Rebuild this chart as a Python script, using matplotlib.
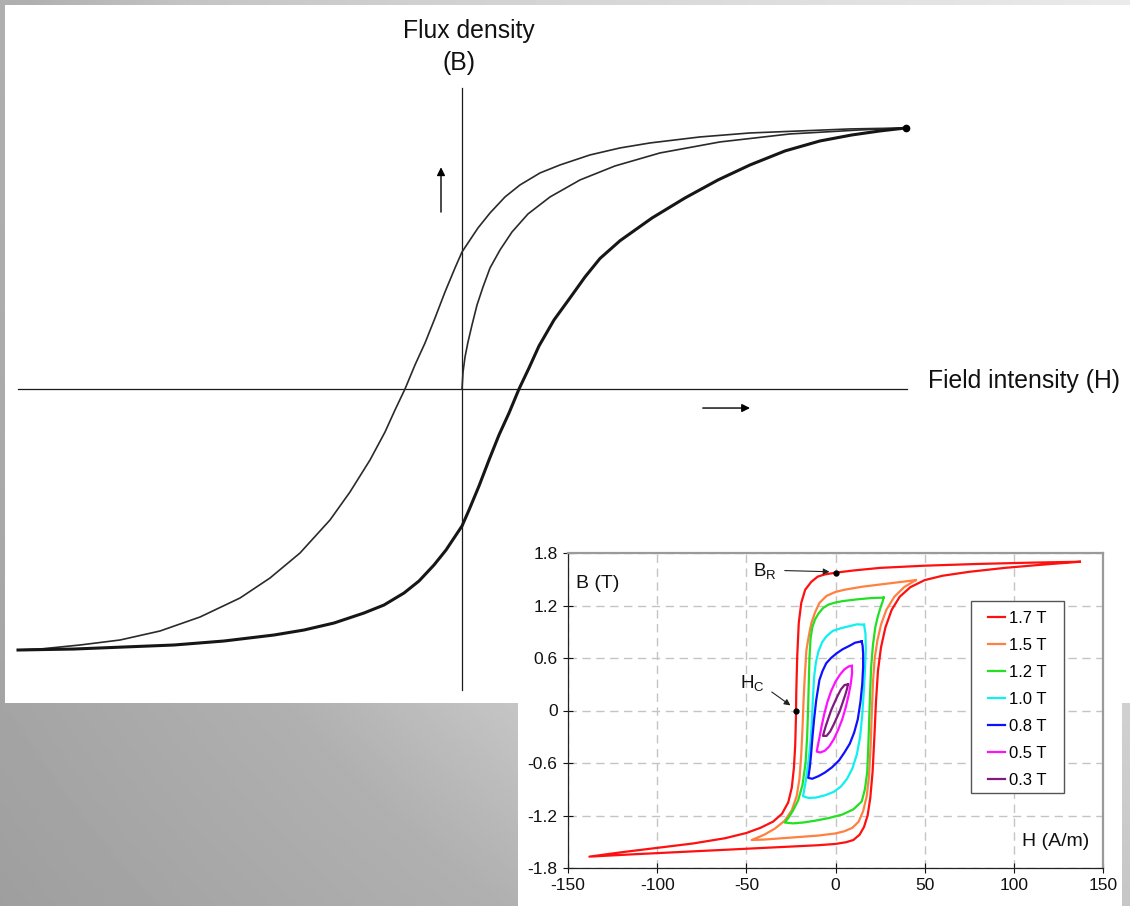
import numpy as np
import matplotlib
matplotlib.use("Agg")
import matplotlib.pyplot as plt
from matplotlib.patches import Rectangle

plt.rcParams['font.family'] = ['Liberation Sans', 'DejaVu Sans']
plt.rcParams['axes.unicode_minus'] = False

# ---------------- main conceptual B-H diagram (arbitrary units, saturation = 100) ----------------
upper_H = [100, 87.39, 76.13, 64.86, 53.60, 42.34, 35.59, 28.83, 22.07, 17.57, 13.06, 9.68, 6.31, 3.60, 1.80, 0,
           -1.58, -3.83, -6.08, -8.33, -10.59, -12.84, -15.09, -17.34, -20.72, -25.23, -29.73, -36.49, -43.24,
           -50.00, -59.01, -68.02, -77.03, -86.04, -95.05, -100]
upper_B = [100, 99.62, 98.85, 98.08, 96.55, 94.25, 92.34, 89.66, 85.82, 82.76, 78.16, 73.56, 67.43, 61.69, 57.09, 52.49,
           46.36, 37.16, 27.20, 17.62, 9.20, 0, -8.05, -16.48, -27.20, -39.46, -50.19, -62.84, -72.41,
           -80.08, -87.36, -92.72, -96.17, -98.08, -99.62, -100]

lower_H = [-100, -87.39, -76.13, -64.86, -53.60, -42.34, -35.59, -28.83, -22.07, -17.57, -13.06, -9.68, -6.31, -3.60,
           -1.80, 0, 1.58, 3.83, 6.08, 8.33, 10.59, 12.84, 15.09, 17.34, 20.72, 24.32, 27.70, 31.08, 35.59, 42.79,
           50.23, 57.66, 64.86, 72.75, 80.63, 87.84, 94.14, 100]
lower_B = [-100, -99.62, -98.85, -98.08, -96.55, -94.25, -92.34, -89.66, -85.82, -82.76, -78.16, -73.56, -67.43, -61.69,
           -57.09, -52.49, -46.36, -37.16, -27.20, -17.62, -9.20, 0, 8.05, 16.48, 26.44, 34.87, 42.91, 50.0, 56.8, 65.5,
           73.18, 80.08, 85.82, 91.19, 95.02, 97.32, 98.85, 100]

init_H = [0, 0.23, 0.68, 1.35, 2.25, 3.38, 4.73, 6.31, 8.56, 11.26, 14.86, 19.82, 26.58, 34.46, 44.59, 58.11, 73.87, 89.64, 100]
init_B = [0, 6.51, 12.26, 18.01, 24.52, 32.18, 39.08, 46.36, 53.26, 60.15, 67.05, 73.56, 80.08, 85.44, 90.42, 94.64, 97.70, 99.23, 100]

# ---------------- inset: measured loops (H in A/m, B in T) ----------------
loop_labels = ['1.7 T', '1.5 T', '1.2 T', '1.0 T', '0.8 T', '0.5 T', '0.3 T']
loop_colors = ['#ff1010', '#ff8040', '#22e022', '#10f0f0', '#1010ff', '#ff10ff', '#801a80']

red_H = [137, 110, 80, 50, 25, 10, 0, -6, -10, -13.6, -17, -19.2, -20.6, -21.5, -22, -22.2, -22.6, -23.3, -24.5,
         -26.5, -30, -35, -42, -50, -62, -80, -100, -120, -138,
         -115, -90, -60, -30, -10, 0, 6, 10, 13.5, 16, 18, 19.5, 20.8, 21.8, 22.7, 23.8, 25.5, 28, 31.5, 36, 42, 50,
         60, 75, 95, 115, 137]
red_B = [1.70, 1.69, 1.675, 1.655, 1.63, 1.60, 1.575, 1.555, 1.53, 1.47, 1.38, 1.23, 1.0, 0.6, 0.2, -0.1, -0.4, -0.65, -0.88,
         -1.05, -1.18, -1.27, -1.34, -1.40, -1.46, -1.52, -1.57, -1.62, -1.67,
         -1.645, -1.62, -1.59, -1.56, -1.54, -1.525, -1.505, -1.48, -1.42, -1.33, -1.2, -1.0, -0.7, -0.3, 0.1, 0.45, 0.72,
         0.95, 1.15, 1.3, 1.41, 1.49, 1.54, 1.585, 1.63, 1.665, 1.70]

orange_H = [45, 35, 25, 15, 5, 0, -5, -9, -11.5, -13.5, -15, -16.3, -17.2, -17.9, -18.5, -19.2, -20.2, -21.8, -24.5,
            -28.5, -34, -40, -47,
            -40, -30, -20, -10, 0, 5, 9.5, 13, 15.5, 17.5, 18.8, 19.7, 20.4, 21.1, 22, 23.5, 25.5, 28.5, 33, 38.5, 45]
orange_B = [1.49, 1.465, 1.44, 1.415, 1.38, 1.355, 1.31, 1.23, 1.12, 1.0, 0.85, 0.69, 0.4, 0.12, -0.2, -0.5, -0.78, -0.98,
            -1.14, -1.26, -1.35, -1.42, -1.48,
            -1.475, -1.46, -1.445, -1.43, -1.405, -1.38, -1.34, -1.27, -1.15, -0.98, -0.75, -0.4, 0, 0.35, 0.6, 0.8,
            0.98, 1.15, 1.3, 1.41, 1.49]

green_H = [27, 20, 12, 4, 0, -4, -7, -9.5, -11.5, -13, -14, -14.6, -15, -15.4, -15.9, -16.8, -18.5, -21, -24, -26.5, -28.5,
           -24, -18, -11.6, -4, 3.7, 10, 14.7, 16.5, 17.8, 18.4, 18.9, 19.4, 20, 21, 22.3, 23.8, 25.3, 26.5, 27]
green_B = [1.29, 1.285, 1.27, 1.25, 1.235, 1.21, 1.17, 1.11, 1.04, 0.95, 0.82, 0.6, 0.3, 0, -0.3, -0.6, -0.85, -1.03, -1.15,
           -1.23, -1.28,
           -1.29, -1.28, -1.26, -1.23, -1.19, -1.13, -1.04, -0.9, -0.7, -0.4, -0.1, 0.2, 0.5, 0.75, 0.95, 1.08, 1.18,
           1.25, 1.29]

cyan_H = [16, 12, 8, 3, -1.5, -5, -7.5, -9.5, -11, -12, -12.7, -13.3, -14.2, -15.4, -16.8, -18.2,
          -15, -11, -6, -1, 3, 6.5, 9.5, 12, 13.8, 15, 15.8, 16.5, 17, 16.8, 16]
cyan_B = [0.98, 0.985, 0.965, 0.94, 0.91, 0.85, 0.78, 0.68, 0.55, 0.38, 0.12, -0.15, -0.4, -0.62, -0.82, -0.98,
          -1.0, -0.995, -0.97, -0.93, -0.87, -0.78, -0.66, -0.5, -0.3, -0.05, 0.2, 0.45, 0.7, 0.88, 0.98]

blue_H = [14.7, 11, 7.9, 4, 0.4, -2.5, -5.2, -7.3, -9, -10.8, -12, -12.9, -13.7, -14.3, -14.9, -15.3,
          -13, -9.5, -6, -2, 2, 5, 8, 10.5, 12.5, 14, 15, 15.5, 15.5, 15.2, 14.7]
blue_B = [0.79, 0.775, 0.74, 0.70, 0.65, 0.60, 0.54, 0.45, 0.35, 0.12, -0.1, -0.3, -0.5, -0.63, -0.72, -0.77,
          -0.78, -0.75, -0.71, -0.65, -0.57, -0.48, -0.38, -0.25, -0.1, 0.1, 0.3, 0.5, 0.65, 0.74, 0.79]

magenta_H = [9.2, 7.5, 5, 2.5, 0, -2.5, -4.5, -6.3, -7.8, -9, -10, -10.5,
             -8.5, -6, -3.5, -1, 1.5, 3.8, 5.8, 7.4, 8.6, 9.3, 9.2]
magenta_B = [0.51, 0.505, 0.47, 0.41, 0.33, 0.22, 0.10, -0.04, -0.18, -0.31, -0.41, -0.47,
             -0.48, -0.46, -0.41, -0.33, -0.22, -0.10, 0.04, 0.18, 0.31, 0.43, 0.51]

purple_H = [7, 5, 3, 1, -1, -2.5, -4, -5.5, -6.5, -7,
            -5, -3, -1, 1, 2.5, 4, 5.5, 6.5, 7]
purple_B = [0.30, 0.29, 0.24, 0.16, 0.07, 0.0, -0.09, -0.18, -0.25, -0.29,
            -0.29, -0.24, -0.16, -0.07, 0.0, 0.09, 0.18, 0.25, 0.30]

loop_H = [red_H, orange_H, green_H, cyan_H, blue_H, magenta_H, purple_H]
loop_B = [red_B, orange_B, green_B, cyan_B, blue_B, magenta_B, purple_B]

BR_point = (0, 1.575)
HC_point = (-22.1, 0)

x_ticks = [-150, -100, -50, 0, 50, 100, 150]
y_ticks = [-1.8, -1.2, -0.6, 0, 0.6, 1.2, 1.8]
y_tick_labels = ['-1.8', '-1.2', '-0.6', '0', '0.6', '1.2', '1.8']

# ---------------- figure & background ----------------
W, Hh = 1130, 906
fig = plt.figure(figsize=(W / 100, Hh / 100), dpi=100)

bg = fig.add_axes([0, 0, 1, 1])
bg.set_xlim(0, W)
bg.set_ylim(Hh, 0)
bg.axis('off')
yy, xx = np.mgrid[0:Hh:2, 0:W:2]
dist = np.hypot(xx - W, yy)
shade = np.interp(dist, [0, 710, 940, 1100, 1450], [0.92, 0.815, 0.77, 0.69, 0.62])
bg.imshow(shade, cmap='gray', vmin=0, vmax=1, extent=[0, W, Hh, 0], interpolation='bilinear',
          aspect='auto', zorder=0)
bg.add_patch(Rectangle((5, 5), W - 5, 698, facecolor='white', edgecolor='none', zorder=1))
bg.add_patch(Rectangle((518, 535), 1122 - 518, Hh - 535, facecolor='white', edgecolor='none', zorder=1))

# ---------------- main diagram ----------------
ax = fig.add_axes([5 / W, (Hh - 703) / Hh, (W - 5) / W, 698 / Hh])
ax.patch.set_alpha(0)
ax.set_xlim(-102.93, 150.45)
ax.set_ylim(-120.3, 147.1)
ax.axis('off')

ax.plot([0, 0], [-115.3, 115.3], color='#1a1a1a', lw=0.9)
ax.plot([-100, 100.2], [0, 0], color='#1a1a1a', lw=0.9)

ax.plot(upper_H, upper_B, color='#2a2a2a', lw=1.2, solid_joinstyle='round')
ax.plot(init_H, init_B, color='#2a2a2a', lw=1.2, solid_joinstyle='round')
ax.plot(lower_H, lower_B, color='#161616', lw=2.2, solid_joinstyle='round')
ax.plot([100], [100], 'o', color='black', ms=4.5)

ax.annotate('', xy=(-4.73, 86.0), xytext=(-4.73, 66.7),
            arrowprops=dict(arrowstyle='-|>', color='black', lw=1.0, mutation_scale=12))
ax.annotate('', xy=(65.5, -7.3), xytext=(53.6, -7.3),
            arrowprops=dict(arrowstyle='-|>', color='black', lw=1.0, mutation_scale=12))

ax.text(1.6, 137.0, 'Flux density', ha='center', va='center', fontsize=17.8, color='#111111')
ax.text(-0.7, 124.8, '(B)', ha='center', va='center', fontsize=17.8, color='#111111')
ax.text(105, 3.1, 'Field intensity (H)', ha='left', va='center', fontsize=17.8, color='#111111')

# ---------------- inset chart ----------------
ia = fig.add_axes([568 / W, (Hh - 868) / Hh, 535 / W, 315 / Hh])
ia.set_facecolor('white')
ia.set_xlim(-150, 150)
ia.set_ylim(-1.8, 1.8)
ia.set_xticks(x_ticks)
ia.set_yticks(y_ticks)
ia.set_yticklabels(y_tick_labels)
ia.tick_params(direction='inout', length=7, width=0.8, labelsize=12.5, colors='#111111', pad=4)
ia.grid(True, color='#c4c4c4', linestyle=(0, (6, 4)), lw=1.0)
for s in ['top', 'right']:
    ia.spines[s].set_color('#9a9a9a')
    ia.spines[s].set_linewidth(1.6)
for s in ['left', 'bottom']:
    ia.spines[s].set_color('#222222')
    ia.spines[s].set_linewidth(0.9)

for hs, bs, c, lab in zip(loop_H, loop_B, loop_colors, loop_labels):
    ia.plot(hs, bs, color=c, lw=1.6, label=lab, solid_joinstyle='round')

ia.plot(*BR_point, 'o', color='black', ms=3.5, zorder=5)
ia.plot(*HC_point, 'o', color='black', ms=3.5, zorder=5)
ia.annotate('', xy=(-1.8, 1.585), xytext=(-30, 1.60),
            arrowprops=dict(arrowstyle='-|>', color='#222222', lw=0.8, mutation_scale=9))
ia.text(-46, 1.59, r'B$_\mathregular{R}$', fontsize=13.5, ha='left', va='center', color='#111111')
ia.annotate('', xy=(-24.0, 0.04), xytext=(-37, 0.23),
            arrowprops=dict(arrowstyle='-|>', color='#222222', lw=0.8, mutation_scale=9))
ia.text(-53.5, 0.31, r'H$_\mathregular{C}$', fontsize=13.5, ha='left', va='center', color='#111111')
ia.text(-145.5, 1.45, 'B (T)', fontsize=14, ha='left', va='center', color='#111111')
ia.text(142.5, -1.5, 'H (A/m)', fontsize=14, ha='right', va='center', color='#111111')

# legend (entries) with a separately drawn frame
ia.add_patch(Rectangle(((971 - 568) / 535, (868 - 793) / 315), (1064 - 971) / 535, (793 - 601) / 315,
                       transform=ia.transAxes, facecolor='white', edgecolor='#555555', lw=1.0, zorder=6))
leg = ia.legend(loc='upper left', bbox_to_anchor=((988 - 568) / 535, (868 - 611) / 315), fontsize=12,
                frameon=False, handlelength=1.0, handletextpad=0.25, labelspacing=0.72,
                borderpad=0, borderaxespad=0)
leg.set_zorder(7)

fig.savefig('out.png', dpi=100)
